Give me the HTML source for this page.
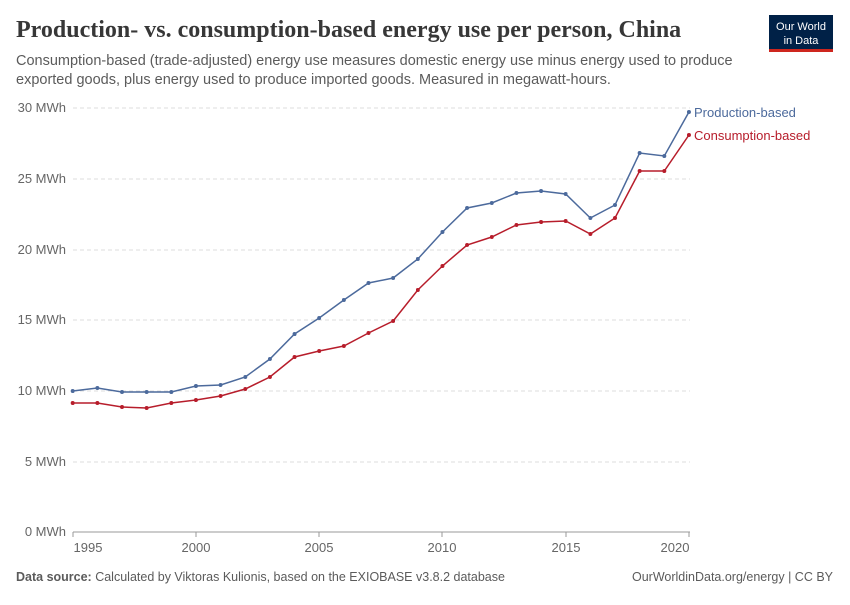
<!DOCTYPE html>
<html><head><meta charset="utf-8"><style>
body{margin:0;background:#fff;width:850px;height:600px;overflow:hidden;font-family:"Liberation Sans",sans-serif}
</style></head><body>
<svg width="850" height="600" xmlns="http://www.w3.org/2000/svg" font-family="Liberation Sans, sans-serif">
<defs>
<marker id="mb" viewBox="0 0 4 4" refX="2" refY="2" markerWidth="4" markerHeight="4" markerUnits="userSpaceOnUse"><circle cx="2" cy="2" r="2" fill="#4c6a9c"/></marker>
<marker id="mr" viewBox="0 0 4 4" refX="2" refY="2" markerWidth="4" markerHeight="4" markerUnits="userSpaceOnUse"><circle cx="2" cy="2" r="2" fill="#b71d2b"/></marker>
</defs>
<text x="16" y="37" font-family="Liberation Serif, serif" font-size="24" font-weight="bold" fill="#373737">Production- vs. consumption-based energy use per person, China</text>
<text x="16" y="65" font-size="14.5" fill="#5b5b5b">Consumption-based (trade-adjusted) energy use measures domestic energy use minus energy used to produce</text>
<text x="16" y="84" font-size="14.5" fill="#5b5b5b">exported goods, plus energy used to produce imported goods. Measured in megawatt-hours.</text>
<rect x="769" y="15" width="64" height="36" fill="#002147"/>
<rect x="769" y="49" width="64" height="3" fill="#ce261e"/>
<text x="801" y="30" font-size="11" fill="#fff" text-anchor="middle">Our World</text>
<text x="801" y="44" font-size="11" fill="#fff" text-anchor="middle">in Data</text>
<g stroke="#ddd" stroke-dasharray="4,3">
<line x1="73" x2="690" y1="108" y2="108"/><line x1="73" x2="690" y1="179" y2="179"/><line x1="73" x2="690" y1="250" y2="250"/><line x1="73" x2="690" y1="320" y2="320"/><line x1="73" x2="690" y1="391" y2="391"/><line x1="73" x2="690" y1="462" y2="462"/>
</g>
<line x1="73" x2="690" y1="532" y2="532" stroke="#999"/>
<g font-size="13" fill="#666" text-anchor="end">
<text x="66" y="112">30 MWh</text><text x="66" y="183">25 MWh</text><text x="66" y="254">20 MWh</text><text x="66" y="324">15 MWh</text><text x="66" y="395">10 MWh</text><text x="66" y="466">5 MWh</text><text x="66" y="536">0 MWh</text>
</g>
<g font-size="13" fill="#666" text-anchor="middle">
<text x="88" y="552">1995</text><text x="196" y="552">2000</text><text x="319" y="552">2005</text><text x="442" y="552">2010</text><text x="566" y="552">2015</text><text x="675" y="552">2020</text>
</g>
<g stroke="#999"><line x1="73" x2="73" y1="532" y2="537"/><line x1="196" x2="196" y1="532" y2="537"/><line x1="319" x2="319" y1="532" y2="537"/><line x1="442" x2="442" y1="532" y2="537"/><line x1="566" x2="566" y1="532" y2="537"/><line x1="689" x2="689" y1="532" y2="537"/></g>
<polyline fill="none" stroke="#4c6a9c" stroke-width="1.5" marker-start="url(#mb)" marker-mid="url(#mb)" marker-end="url(#mb)" points="72.7,391 97.35,388 122,392 146.65,392 171.3,392 195.95,386 220.6,385 245.25,377 269.9,359 294.55,334 319.2,318 343.85,300 368.5,283 393.15,278 417.8,259 442.45,232 467.1,208 491.75,203 516.4,193 541.05,191 565.7,194 590.35,218 615,205 639.65,153 664.3,156 688.95,112"/>
<polyline fill="none" stroke="#b71d2b" stroke-width="1.5" marker-start="url(#mr)" marker-mid="url(#mr)" marker-end="url(#mr)" points="72.7,403 97.35,403 122,407 146.65,408 171.3,403 195.95,400 220.6,396 245.25,389 269.9,377 294.55,357 319.2,351 343.85,346 368.5,333 393.15,321 417.8,290 442.45,266 467.1,245 491.75,237 516.4,225 541.05,222 565.7,221 590.35,234 615,218 639.65,171 664.3,171 688.95,135"/>
<text x="694" y="117" font-size="13" fill="#4c6a9c">Production-based</text>
<text x="694" y="140" font-size="13" fill="#b71d2b">Consumption-based</text>
<text x="16" y="581" font-size="12.5" fill="#5b5b5b"><tspan font-weight="bold">Data source:</tspan> Calculated by Viktoras Kulionis, based on the EXIOBASE v3.8.2 database</text>
<text x="833" y="581" font-size="12.5" fill="#5b5b5b" text-anchor="end">OurWorldinData.org/energy | CC BY</text>
</svg>
</body></html>
